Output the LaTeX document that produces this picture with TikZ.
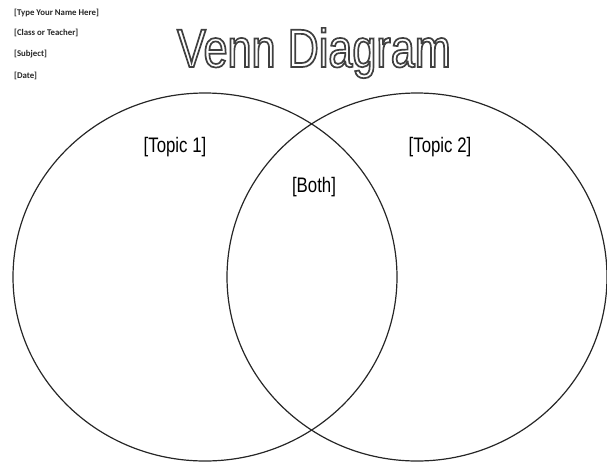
\documentclass[tikz,border=0pt]{standalone}
\usepackage{fontspec}
\newfontfamily\titlefont[FakeStretch=0.8]{Liberation Sans}
\newfontfamily\notefont[BoldFont={Carlito Bold}]{Carlito}
% hollow letters: stroke the glyph outlines only
\newcommand{\hollow}[1]{\special{pdf:literal direct 1 Tr 1.7 w}#1\special{pdf:literal direct 0 Tr 0.4 w}}
\tikzset{
  ring/.style={draw=black!85, line width=1.2pt},
  topic/.style={font=\titlefont\fontsize{21}{24}\selectfont, anchor=base},
  note/.style={font=\notefont\bfseries\fontsize{8.8}{10}\selectfont, anchor=west, text=black!85, inner sep=0pt}
}
\begin{document}
\begin{tikzpicture}[x=1pt, y=-1pt]
  \useasboundingbox (0,0) rectangle (607,461);
  % Header lines
  \node[note] (name) at (14, 13) {[Type Your Name Here]};
  \node[note] (class) at (14, 33) {[Class or Teacher]};
  \node[note] (subject) at (14, 54) {[Subject]};
  \node[note] (date) at (14, 76) {[Date]};

  % The two sets
  \draw[ring] (205, 277) ellipse [x radius=192, y radius=184];
  \draw[ring] (417, 277) ellipse [x radius=190, y radius=184];

  % Labels
  \node[topic] (topicA) at (175, 152) {[Topic 1]};
  \node[topic] (topicB) at (440, 152) {[Topic 2]};
  \node[topic] (both) at (314, 192) {[Both]};

  % Title in outline letters
  \node[anchor=base, inner sep=0pt, text=black!75, font=\titlefont\fontsize{54}{60}\selectfont] (title) at (314, 67)
    {\hollow{Venn Diagram}};
\end{tikzpicture}
\end{document}
